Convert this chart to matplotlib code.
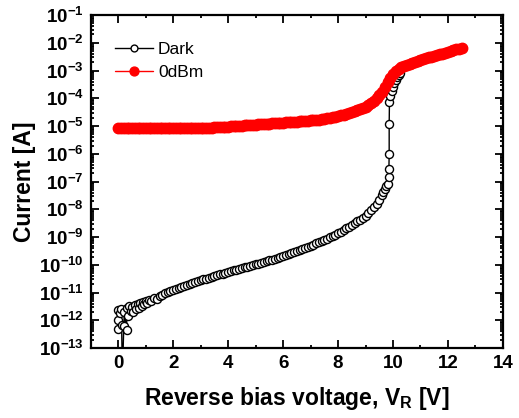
import matplotlib
matplotlib.use("Agg")
import matplotlib.pyplot as plt
from matplotlib.ticker import LogLocator, MultipleLocator, NullFormatter, FuncFormatter
import numpy as np

plt.rcParams["font.family"] = ["Liberation Sans", "DejaVu Sans"]
plt.rcParams["mathtext.fontset"] = "custom"
plt.rcParams["mathtext.rm"] = "Liberation Sans:bold"
plt.rcParams["mathtext.bf"] = "Liberation Sans:bold"
plt.rcParams["mathtext.default"] = "bf"

# dark current (V, A)
dark_v = [-0.02, 0.0, 0.0, 0.05, 0.1, 0.12, 0.15, 0.2, 0.22, 0.3, 0.32, 0.35, 0.4, 0.45,
          0.5, 0.55, 0.6, 0.65, 0.7, 0.75, 0.8, 0.85, 0.9, 0.95, 1.0, 1.05, 1.1, 1.2,
          1.3, 1.4, 1.5, 1.6, 1.7, 1.8, 1.9,
          2.0, 2.1, 2.2, 2.3, 2.4, 2.5, 2.6, 2.7, 2.8, 2.9,
          3.0, 3.1, 3.2, 3.3, 3.4, 3.5, 3.6, 3.7, 3.8, 3.9,
          4.0, 4.1, 4.2, 4.3, 4.4, 4.5, 4.6, 4.7, 4.8, 4.9,
          5.0, 5.1, 5.2, 5.3, 5.4, 5.5, 5.6, 5.7, 5.8, 5.9,
          6.0, 6.1, 6.2, 6.3, 6.4, 6.5, 6.6, 6.7, 6.8, 6.9,
          7.0, 7.1, 7.2, 7.3, 7.4, 7.5, 7.6, 7.7, 7.8, 7.9,
          8.0, 8.1, 8.2, 8.3, 8.4, 8.5, 8.6, 8.7, 8.8, 8.9,
          9.0, 9.1, 9.2, 9.3, 9.4, 9.5, 9.6, 9.65, 9.7, 9.75, 9.8,
          9.84, 9.85, 9.86, 9.86, 9.87, 9.9, 9.95, 10.0, 10.05, 10.1, 10.15, 10.2, 10.25]
dark_i = [5e-13, 2.3e-12, 1.0e-12, 1.8e-12, 2.5e-12, 7e-13, 1e-14, 6.5e-13, 2.0e-12, 4.5e-13,
          2.8e-12, 1.5e-12, 3.2e-12, 2.2e-12, 3.0e-12, 2.0e-12, 3.5e-12, 2.5e-12, 3.8e-12,
          2.8e-12, 4.2e-12, 3.3e-12, 4.5e-12, 3.8e-12, 5.2e-12, 4.2e-12, 5.5e-12, 5.0e-12,
          6.5e-12, 6.0e-12, 7.5e-12, 8.0e-12, 9.5e-12, 1.05e-11, 1.15e-11,
          1.3e-11, 1.4e-11, 1.5e-11, 1.65e-11, 1.8e-11, 1.95e-11, 2.1e-11, 2.25e-11, 2.4e-11, 2.6e-11,
          2.8e-11, 3.0e-11, 3.2e-11, 3.5e-11, 3.7e-11, 4.0e-11, 4.3e-11, 4.6e-11, 4.9e-11, 5.3e-11,
          5.6e-11, 6.0e-11, 6.3e-11, 6.8e-11, 7.2e-11, 7.7e-11, 8.1e-11, 8.7e-11, 9.3e-11, 9.9e-11,
          1.05e-10, 1.1e-10, 1.17e-10, 1.25e-10, 1.35e-10, 1.45e-10, 1.55e-10, 1.65e-10, 1.78e-10, 1.9e-10,
          2.1e-10, 2.25e-10, 2.45e-10, 2.65e-10, 2.9e-10, 3.1e-10, 3.4e-10, 3.7e-10, 4.1e-10, 4.5e-10,
          4.9e-10, 5.4e-10, 6.0e-10, 6.6e-10, 7.2e-10, 8.0e-10, 8.9e-10, 9.9e-10, 1.1e-9, 1.22e-9,
          1.38e-9, 1.55e-9, 1.78e-9, 2.05e-9, 2.35e-9, 2.75e-9, 3.2e-9, 3.7e-9, 4.3e-9, 5.1e-9,
          6.0e-9, 7.4e-9, 9.3e-9, 1.2e-8, 1.6e-8, 2.2e-8, 3.3e-8, 4.2e-8, 5.4e-8, 7.0e-8, 8.5e-8,
          1.5e-7, 2.8e-7, 1.0e-6, 1.15e-5, 7.5e-5, 1.2e-4, 1.8e-4, 2.6e-4, 3.5e-4, 4.5e-4, 5.8e-4, 7.0e-4, 8.0e-4]

# 0 dBm illuminated current (V, A)
light_v = [0.0, 0.1, 0.2, 0.3, 0.4, 0.5, 0.6, 0.7, 0.8, 0.9,
           1.0, 1.1, 1.2, 1.3, 1.4, 1.5, 1.6, 1.7, 1.8, 1.9,
           2.0, 2.1, 2.2, 2.3, 2.4, 2.5, 2.6, 2.7, 2.8, 2.9,
           3.0, 3.1, 3.2, 3.3, 3.4, 3.5, 3.6, 3.7, 3.8, 3.9,
           4.0, 4.1, 4.2, 4.3, 4.4, 4.5, 4.6, 4.7, 4.8, 4.9,
           5.0, 5.1, 5.2, 5.3, 5.4, 5.5, 5.6, 5.7, 5.8, 5.9,
           6.0, 6.1, 6.2, 6.3, 6.4, 6.5, 6.6, 6.7, 6.8, 6.9,
           7.0, 7.1, 7.2, 7.3, 7.4, 7.5, 7.6, 7.7, 7.8, 7.9,
           8.0, 8.1, 8.2, 8.3, 8.4, 8.5, 8.6, 8.7, 8.8, 8.9,
           9.0, 9.1, 9.2, 9.3, 9.4, 9.5, 9.6, 9.7, 9.8, 9.9,
           10.0, 10.1, 10.2, 10.3, 10.4, 10.5, 10.6, 10.7, 10.8, 10.9,
           11.0, 11.1, 11.2, 11.3, 11.4, 11.5, 11.6, 11.7, 11.8, 11.9,
           12.0, 12.1, 12.2, 12.3, 12.4, 12.5]
light_i = [8.3e-6, 8.3e-6, 8.2e-6, 8.3e-6, 8.3e-6, 8.2e-6, 8.3e-6, 8.3e-6, 8.3e-6, 8.2e-6,
           8.3e-6, 8.3e-6, 8.3e-6, 8.3e-6, 8.3e-6, 8.3e-6, 8.3e-6, 8.3e-6, 8.3e-6, 8.3e-6,
           8.3e-6, 8.3e-6, 8.3e-6, 8.2e-6, 8.3e-6, 8.3e-6, 8.3e-6, 8.3e-6, 8.4e-6, 8.4e-6,
           8.5e-6, 8.6e-6, 8.7e-6, 8.8e-6, 8.9e-6, 9.0e-6, 9.1e-6, 9.2e-6, 9.3e-6, 9.4e-6,
           9.5e-6, 9.7e-6, 9.8e-6, 1.0e-5, 1.02e-5, 1.04e-5, 1.06e-5, 1.08e-5, 1.1e-5, 1.12e-5,
           1.14e-5, 1.16e-5, 1.22e-5, 1.19e-5, 1.21e-5, 1.23e-5, 1.25e-5, 1.27e-5, 1.29e-5, 1.31e-5,
           1.33e-5, 1.35e-5, 1.37e-5, 1.39e-5, 1.42e-5, 1.45e-5, 1.48e-5, 1.51e-5, 1.54e-5, 1.57e-5,
           1.6e-5, 1.63e-5, 1.67e-5, 1.71e-5, 1.76e-5, 1.82e-5, 1.9e-5, 1.98e-5, 2.07e-5, 2.17e-5,
           2.3e-5, 2.44e-5, 2.6e-5, 2.78e-5, 2.98e-5, 3.2e-5, 3.45e-5, 3.75e-5, 4.1e-5, 4.5e-5,
           5.0e-5, 5.7e-5, 6.8e-5, 8.3e-5, 1.02e-4, 1.3e-4, 1.75e-4, 2.5e-4, 3.8e-4, 5.6e-4,
           7.6e-4, 9.6e-4, 1.15e-3, 1.32e-3, 1.48e-3, 1.62e-3, 1.76e-3, 1.9e-3, 2.05e-3, 2.2e-3,
           2.4e-3, 2.6e-3, 2.8e-3, 3.0e-3, 3.2e-3, 3.4e-3, 3.6e-3, 3.8e-3, 4.0e-3, 4.3e-3,
           4.6e-3, 5.0e-3, 5.4e-3, 5.8e-3, 6.2e-3, 6.6e-3]

fig = plt.figure(figsize=(5.19, 4.18), dpi=100)
ax = fig.add_axes([0.175, 0.167, 0.794, 0.797])

ax.plot(dark_v, dark_i, color="black", lw=1.0, marker="o", ms=5.8,
        mfc="white", mec="black", mew=1.0, label="Dark", zorder=2)
ax.plot(light_v, light_i, color="red", lw=4.5, marker="o", ms=7.5,
        mfc="red", mec="red", label="0dBm", zorder=3, solid_capstyle="round")

ax.set_yscale("log")
ax.set_xlim(-1, 14)
ax.set_ylim(1e-13, 1e-1)
ax.xaxis.set_major_locator(MultipleLocator(2))
ax.xaxis.set_minor_locator(MultipleLocator(1))
ax.yaxis.set_major_locator(LogLocator(base=10, numticks=20))
ax.yaxis.set_minor_locator(LogLocator(base=10, subs=range(2, 10), numticks=20))
ax.yaxis.set_minor_formatter(NullFormatter())
ax.yaxis.set_major_formatter(FuncFormatter(lambda v, p: r"$\mathbf{10^{%d}}$" % round(np.log10(v))))

ax.tick_params(which="both", direction="in", top=True, right=True, width=1.3)
ax.tick_params(which="major", length=5.5, labelsize=13.5, pad=5)
ax.tick_params(which="minor", length=2.5)
for lab in ax.get_xticklabels():
    lab.set_fontweight("bold")
for s in ax.spines.values():
    s.set_linewidth(1.6)

ax.set_xlabel(r"Reverse bias voltage, V$_\mathbf{R}$ [V]", fontsize=16.5, fontweight="bold", labelpad=9)
ax.set_ylabel("Current [A]", fontsize=16.5, fontweight="bold", labelpad=2)

leg = ax.legend(loc="upper left", bbox_to_anchor=(0.02, 0.965), frameon=False, fontsize=12.5,
                numpoints=1, handlelength=2.2, handletextpad=0.3, labelspacing=0.45, markerscale=0.85)
leg.get_lines()[1].set_linewidth(1.0)

fig.savefig("out.png", dpi=100)
